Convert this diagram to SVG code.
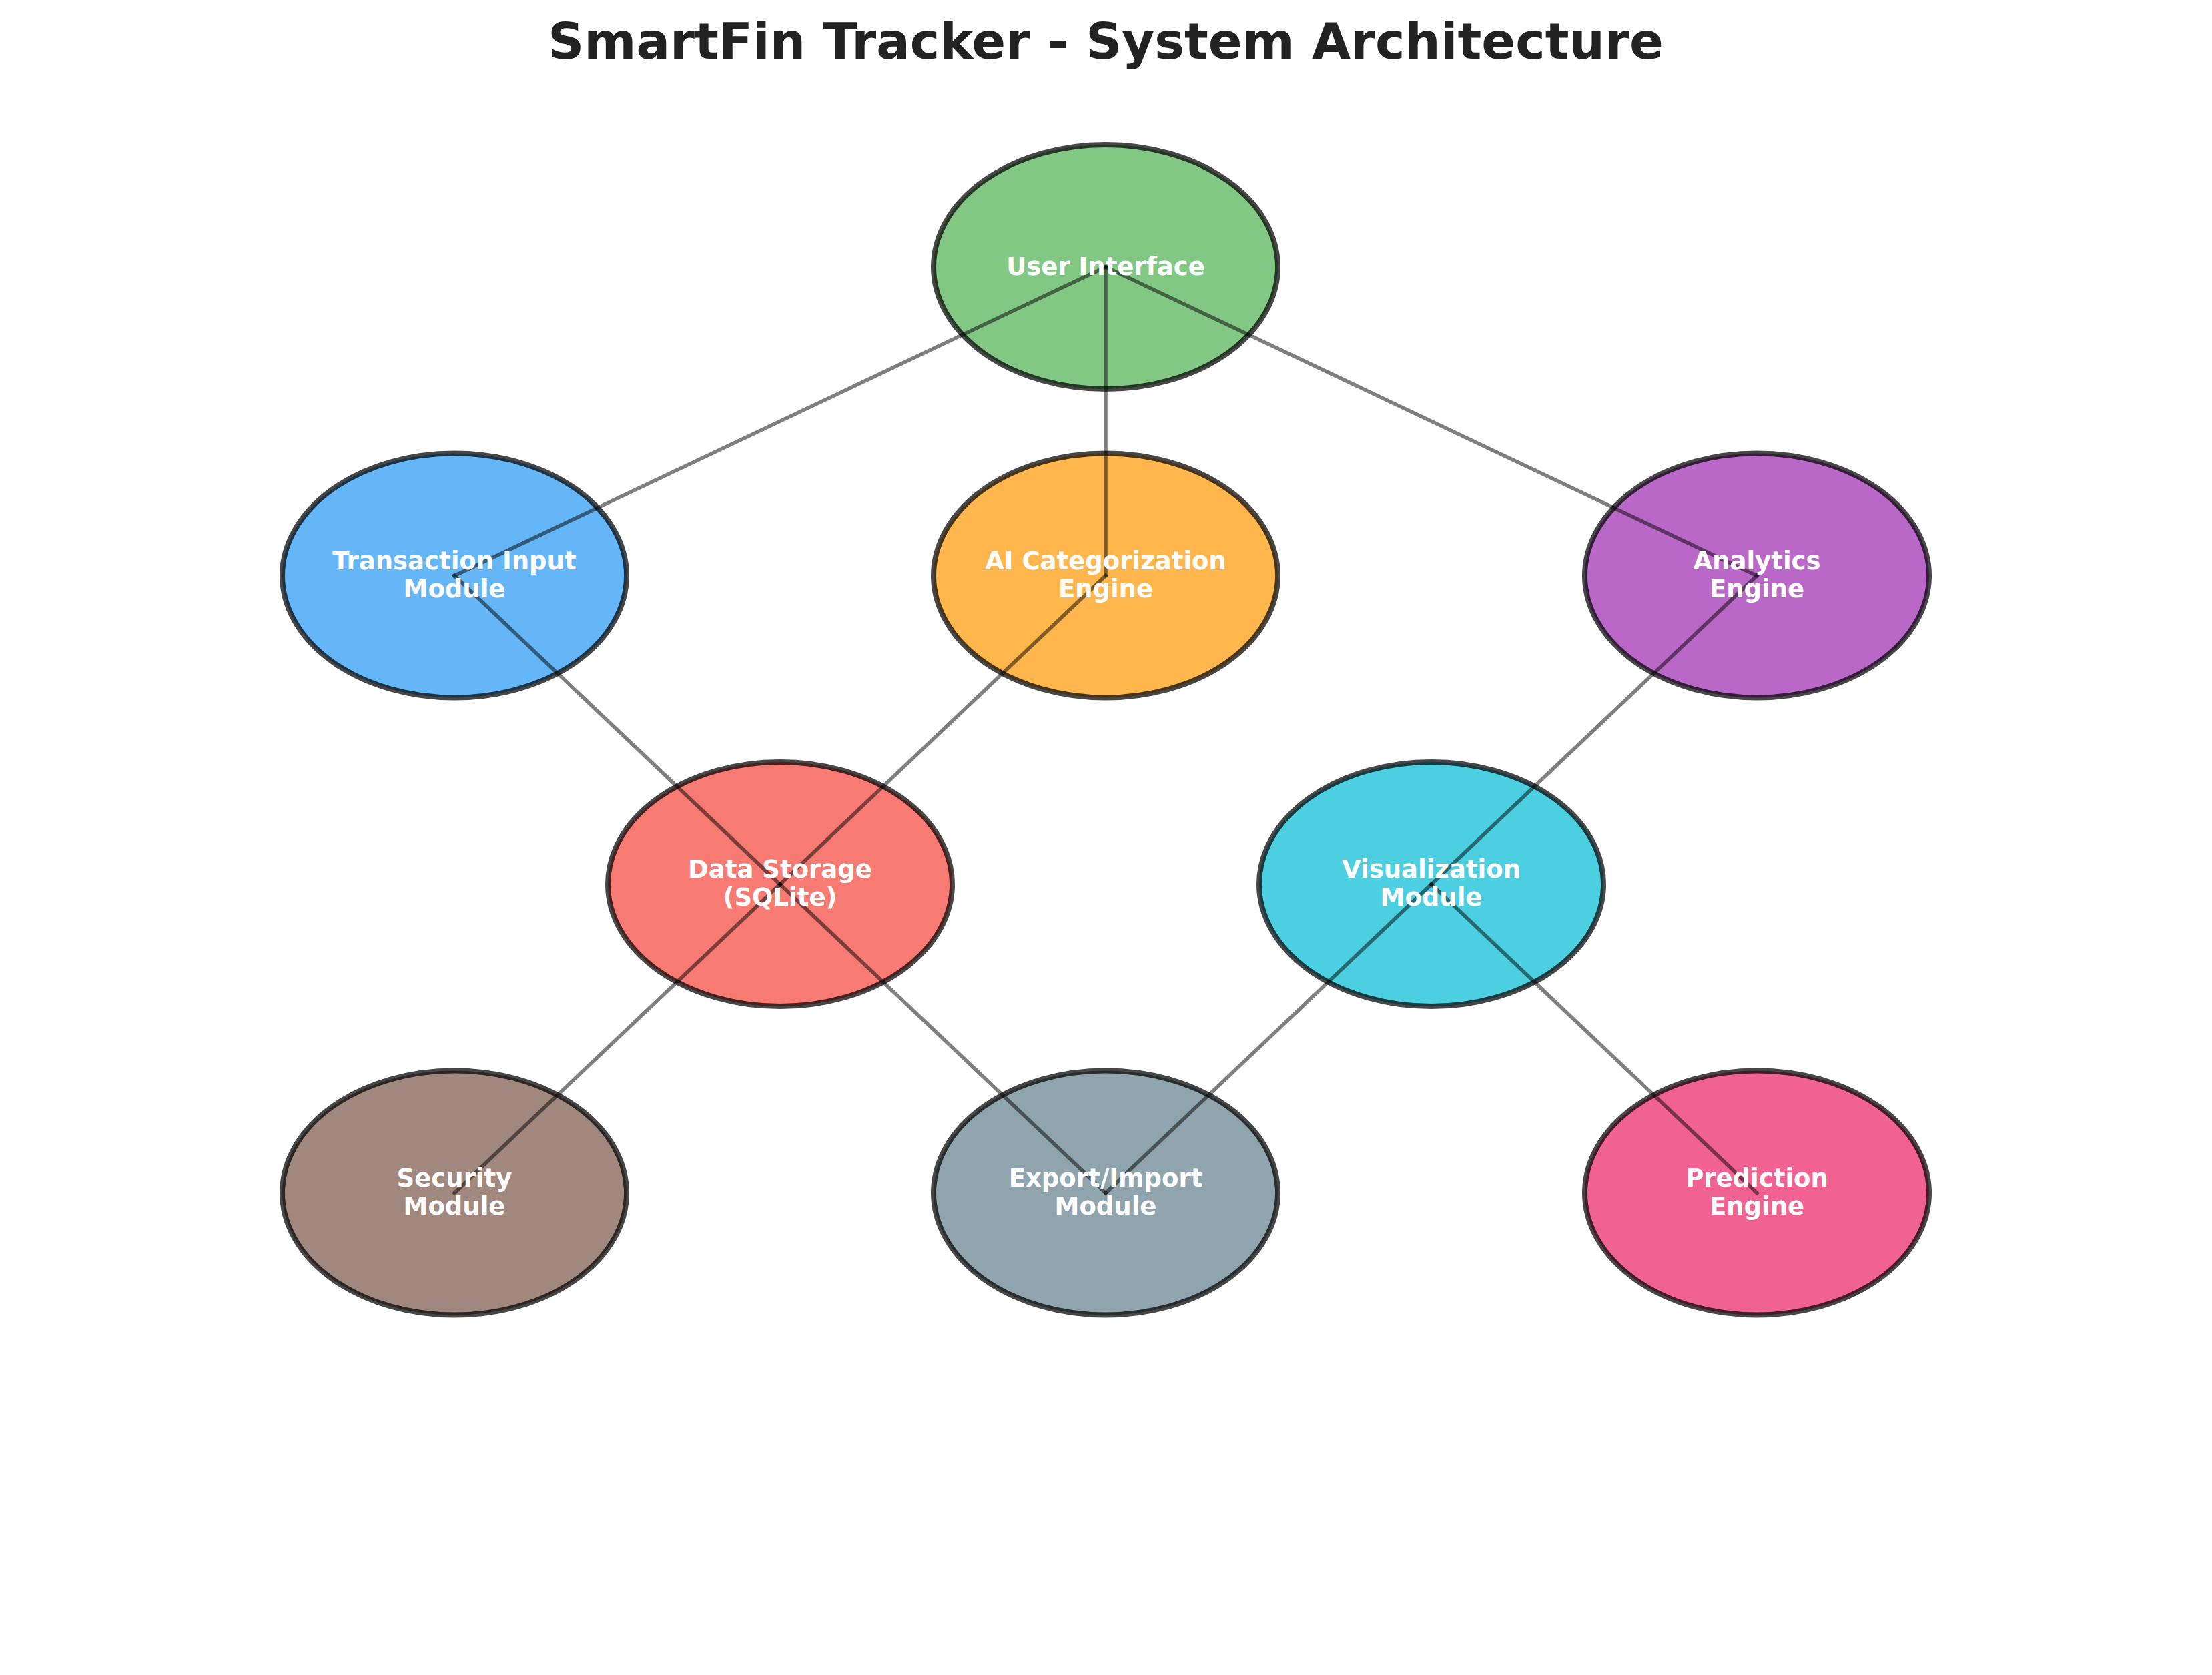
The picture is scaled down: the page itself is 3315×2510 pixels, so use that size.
<svg xmlns="http://www.w3.org/2000/svg" width="3315" height="2510" viewBox="0 0 3315 2510">
<style>
.node{stroke:#000;stroke-opacity:0.72;stroke-width:8}
.edge{stroke:#000;stroke-opacity:0.5;stroke-width:5.5;stroke-linecap:square}
.lbl{font-family:"DejaVu Sans","Liberation Sans",sans-serif;font-weight:bold;font-size:37px;fill:#fff;text-anchor:middle}
.title{font-family:"DejaVu Sans","Liberation Sans",sans-serif;font-weight:bold;font-size:75px;fill:#222;text-anchor:middle}
</style>
<rect width="3315" height="2510" fill="#fff"/>
<text class="title" x="1657" y="88">SmartFin Tracker - System Architecture</text>
<g id="nodes">
<g id="node-ui"><ellipse class="node" cx="1657" cy="400" rx="258" ry="183" fill="#82C784"/></g>
<g id="node-transaction"><ellipse class="node" cx="681" cy="862.5" rx="258" ry="183" fill="#64B6F7"/></g>
<g id="node-ai"><ellipse class="node" cx="1657" cy="862.5" rx="258" ry="183" fill="#FFB74D"/></g>
<g id="node-analytics"><ellipse class="node" cx="2633" cy="862.5" rx="258" ry="183" fill="#BA68C8"/></g>
<g id="node-storage"><ellipse class="node" cx="1169" cy="1325" rx="258" ry="183" fill="#F77B72"/></g>
<g id="node-visualization"><ellipse class="node" cx="2145" cy="1325" rx="258" ry="183" fill="#4CD0E1"/></g>
<g id="node-security"><ellipse class="node" cx="681" cy="1787.5" rx="258" ry="183" fill="#A1887F"/></g>
<g id="node-export"><ellipse class="node" cx="1657" cy="1787.5" rx="258" ry="183" fill="#90A4AE"/></g>
<g id="node-prediction"><ellipse class="node" cx="2633" cy="1787.5" rx="258" ry="183" fill="#F06292"/></g>
</g>
<g id="connectors">
<line class="edge" x1="1657" y1="400" x2="681" y2="862.5"/>
<line class="edge" x1="1657" y1="400" x2="1657" y2="862.5"/>
<line class="edge" x1="1657" y1="400" x2="2633" y2="862.5"/>
<line class="edge" x1="681" y1="862.5" x2="1169" y2="1325"/>
<line class="edge" x1="1657" y1="862.5" x2="1169" y2="1325"/>
<line class="edge" x1="2633" y1="862.5" x2="2145" y2="1325"/>
<line class="edge" x1="1169" y1="1325" x2="681" y2="1787.5"/>
<line class="edge" x1="1169" y1="1325" x2="1657" y2="1787.5"/>
<line class="edge" x1="2145" y1="1325" x2="1657" y2="1787.5"/>
<line class="edge" x1="2145" y1="1325" x2="2633" y2="1787.5"/>
</g>
<g id="labels">
<text class="lbl" id="label-ui" x="1657" y="412">User Interface</text>
<text class="lbl" id="label-transaction" x="681" y="852.5">Transaction Input<tspan x="681" dy="42">Module</tspan></text>
<text class="lbl" id="label-ai" x="1657" y="852.5">AI Categorization<tspan x="1657" dy="42">Engine</tspan></text>
<text class="lbl" id="label-analytics" x="2633" y="852.5">Analytics<tspan x="2633" dy="42">Engine</tspan></text>
<text class="lbl" id="label-storage" x="1169" y="1315">Data Storage<tspan x="1169" dy="42">(SQLite)</tspan></text>
<text class="lbl" id="label-visualization" x="2145" y="1315">Visualization<tspan x="2145" dy="42">Module</tspan></text>
<text class="lbl" id="label-security" x="681" y="1777.5">Security<tspan x="681" dy="42">Module</tspan></text>
<text class="lbl" id="label-export" x="1657" y="1777.5">Export/Import<tspan x="1657" dy="42">Module</tspan></text>
<text class="lbl" id="label-prediction" x="2633" y="1777.5">Prediction<tspan x="2633" dy="42">Engine</tspan></text>
</g>
</svg>
